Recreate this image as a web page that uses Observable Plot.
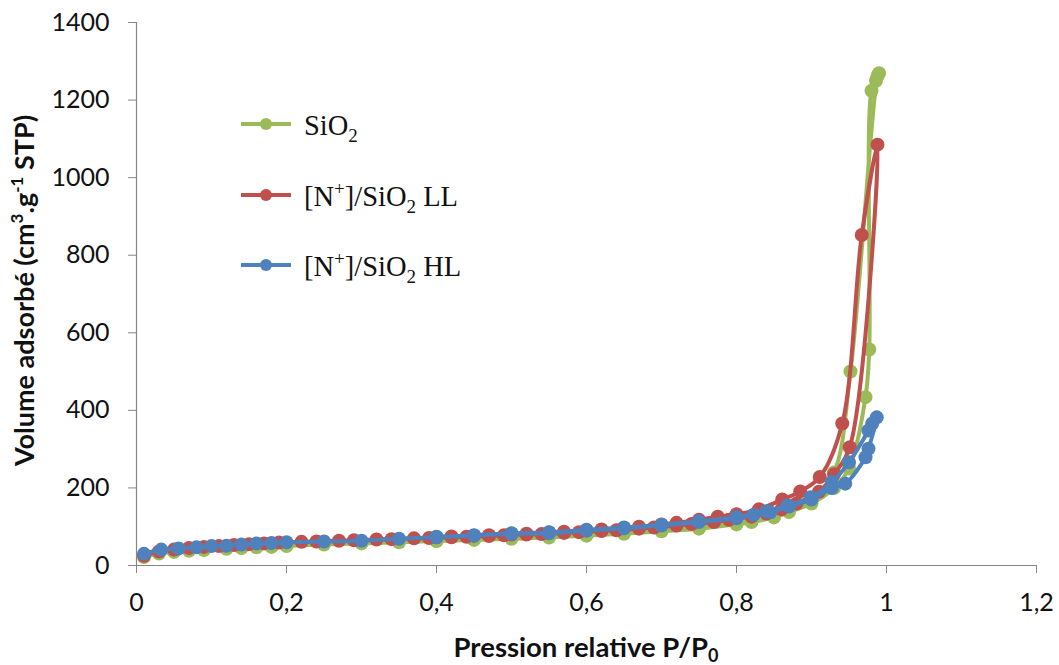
<!DOCTYPE html>
<html><head><meta charset="utf-8">
<script src="https://cdn.jsdelivr.net/npm/d3@7"></script>
<script src="https://cdn.jsdelivr.net/npm/@observablehq/plot@0.6"></script>
<style>body{margin:0;background:#fff} #chart{width:1059px;height:665px}</style>
</head><body><div id="chart"></div>
<script>
// ---- data ----
const seriesNames = ["SiO2", "[N+]/SiO2 LL", "[N+]/SiO2 HL"];
const seriesColors = ["#9BBB59", "#C0504D", "#4F81BD"];

const sio2AdsP = [0.01,0.03,0.05,0.07,0.09,0.12,0.14,0.16,0.18,0.20,0.25,0.30,0.35,0.40,0.45,0.50,0.55,0.60,0.65,0.70,0.75,0.80,0.82,0.85,0.87,0.90,0.93,0.95,0.972,0.977,0.980,0.986,0.990];
const sio2AdsV = [22,31,35,38,40,43,45,47,48,50,54,57,60,63,66,69,72,77,82,88,95,106,112,124,138,160,200,250,434,557,1224,1250,1269];
const sio2DesP = [0.988,0.952,0.93,0.90,0.87,0.85,0.80,0.75,0.70,0.65,0.60,0.55,0.50,0.45,0.40];
const sio2DesV = [1262,500,240,170,145,130,112,100,92,86,80,76,72,68,64];

const llAdsP = [0.01,0.03,0.05,0.07,0.09,0.11,0.13,0.15,0.17,0.19,0.22,0.24,0.27,0.29,0.32,0.34,0.37,0.39,0.42,0.44,0.47,0.49,0.52,0.54,0.57,0.59,0.62,0.64,0.67,0.69,0.72,0.74,0.77,0.79,0.82,0.84,0.86,0.88,0.91,0.93,0.951,0.988];
const llAdsV = [25,36,41,45,48,50,53,55,57,59,61,62,64,65,67,68,70,71,73,74,76,78,80,81,84,86,89,91,95,98,103,107,112,118,126,134,145,160,190,235,305,1085];
const llDesP = [0.967,0.941,0.911,0.885,0.861,0.83,0.80,0.775,0.75,0.72,0.70,0.67,0.65,0.62,0.60,0.57,0.55,0.52,0.50,0.47,0.45,0.42,0.40];
const llDesV = [852,366,228,191,170,145,132,126,118,110,106,100,97,93,90,87,85,82,80,78,77,75,73];

const hlAdsP = [0.01,0.033,0.056,0.08,0.10,0.12,0.14,0.16,0.18,0.20,0.25,0.30,0.35,0.40,0.45,0.50,0.55,0.60,0.65,0.70,0.75,0.80,0.823,0.845,0.87,0.90,0.927,0.945,0.972,0.976,0.987];
const hlAdsV = [30,41,44,47,50,51,54,57,58,60,62,64,69,73,77,82,83,90,96,103,112,122,131,137,152,170,200,211,279,301,382];
const hlDesP = [0.981,0.976,0.95,0.927,0.899,0.868,0.84,0.80,0.75,0.70,0.65,0.60,0.55,0.50,0.45,0.40];
const hlDesV = [366,348,266,215,176,155,140,125,114,105,98,92,86,83,78,74];

const xTicks = [0,0.2,0.4,0.6,0.8,1,1.2];
const yTicks = [0,200,400,600,800,1000,1200,1400];

// ---- build rows ----
function rows(name, ap, av, dp, dv) {
  const r = [];
  ap.forEach((p, i) => r.push({series: name, p, v: av[i]}));
  dp.forEach((p, i) => r.push({series: name, p, v: dv[i]}));
  return r;
}
const datasets = [
  rows(seriesNames[0], sio2AdsP, sio2AdsV, sio2DesP, sio2DesV),
  rows(seriesNames[1], llAdsP, llAdsV, llDesP, llDesV),
  rows(seriesNames[2], hlAdsP, hlAdsV, hlDesP, hlDesV)
];

const W = 1059, H = 665, ML = 136, MR = 23, MT = 22, MB = 100;
const marks = [
  Plot.ruleY([0], {stroke: "#868686", strokeWidth: 1.2}),
  Plot.ruleX([0], {stroke: "#868686", strokeWidth: 1.2}),
  Plot.axisX({ticks: xTicks, tickSize: 8, tickPadding: 20, stroke: "#868686", fill: "#111",
    tickFormat: d => String(d).replace(".", ","), label: null}),
  Plot.axisY({ticks: yTicks, tickSize: 8, tickPadding: 19, stroke: "#868686", fill: "#111",
    tickFormat: d => String(d), label: null})
];
datasets.forEach((d, i) => {
  marks.push(Plot.line(d, {x: "p", y: "v", stroke: seriesColors[i], strokeWidth: 4, curve: "catmull-rom"}));
  marks.push(Plot.dot(d, {x: "p", y: "v", fill: seriesColors[i], r: 7}));
});

const svgNode = Plot.plot({
  width: W, height: H,
  marginLeft: ML, marginRight: MR, marginTop: MT, marginBottom: MB,
  style: {fontFamily: "Lato, 'Open Sans', sans-serif", fontSize: "25px", background: "#fff", overflow: "visible"},
  x: {domain: [0, 1.2]},
  y: {domain: [0, 1400]},
  marks
});
document.getElementById("chart").appendChild(svgNode);

const svg = d3.select(svgNode);
const xMid = (ML + (W - MR)) / 2;

// x title
const xt = svg.append("text").attr("x", xMid).attr("y", 657).attr("text-anchor", "middle")
  .attr("font-weight", "bold").attr("font-size", 27.5).attr("fill", "#111")
  .attr("font-family", "Lato, 'Open Sans', sans-serif");
xt.append("tspan").text("Pression relative P/P");
xt.append("tspan").attr("font-size", 18).attr("dy", 5).text("0");

// y title
const yMid = (MT + (H - MB)) / 2;
const yt = svg.append("text").attr("transform", `translate(34,${yMid - 3}) rotate(-90)`).attr("text-anchor", "middle")
  .attr("font-weight", "bold").attr("font-size", 27).attr("fill", "#111")
  .attr("font-family", "Lato, 'Open Sans', sans-serif");
yt.append("tspan").text("Volume adsorbé (cm");
yt.append("tspan").attr("font-size", 17).attr("dy", -11).text("3");
yt.append("tspan").attr("dy", 11).text(".g");
yt.append("tspan").attr("font-size", 17).attr("dy", -11).text("-1");
yt.append("tspan").attr("dy", 11).text(" STP)");

// legend
const legY = [124, 195, 265];
const legParts = [
  [["SiO", 0], ["2", 1]],
  [["[N", 0], ["+", -1], ["]/SiO", 0], ["2", 1], [" LL", 0]],
  [["[N", 0], ["+", -1], ["]/SiO", 0], ["2", 1], [" HL", 0]]
];
const lg = svg.append("g");
legY.forEach((y, i) => {
  lg.append("line").attr("x1", 241).attr("x2", 291).attr("y1", y).attr("y2", y)
    .attr("stroke", seriesColors[i]).attr("stroke-width", 4);
  lg.append("circle").attr("cx", 266).attr("cy", y).attr("r", 6).attr("fill", seriesColors[i]);
  const t = lg.append("text").attr("x", 304).attr("y", y + 11).attr("text-anchor", "start")
    .attr("font-family", "'Liberation Serif', 'Times New Roman', serif").attr("font-size", 28.5).attr("fill", "#111");
  let cur = 0;
  legParts[i].forEach(([s, k]) => {
    const target = k === 1 ? 7 : k === -1 ? -11 : 0;
    const ts = t.append("tspan").attr("dy", target - cur).text(s);
    if (k !== 0) ts.attr("font-size", 19);
    cur = target;
  });
});
</script></body></html>
